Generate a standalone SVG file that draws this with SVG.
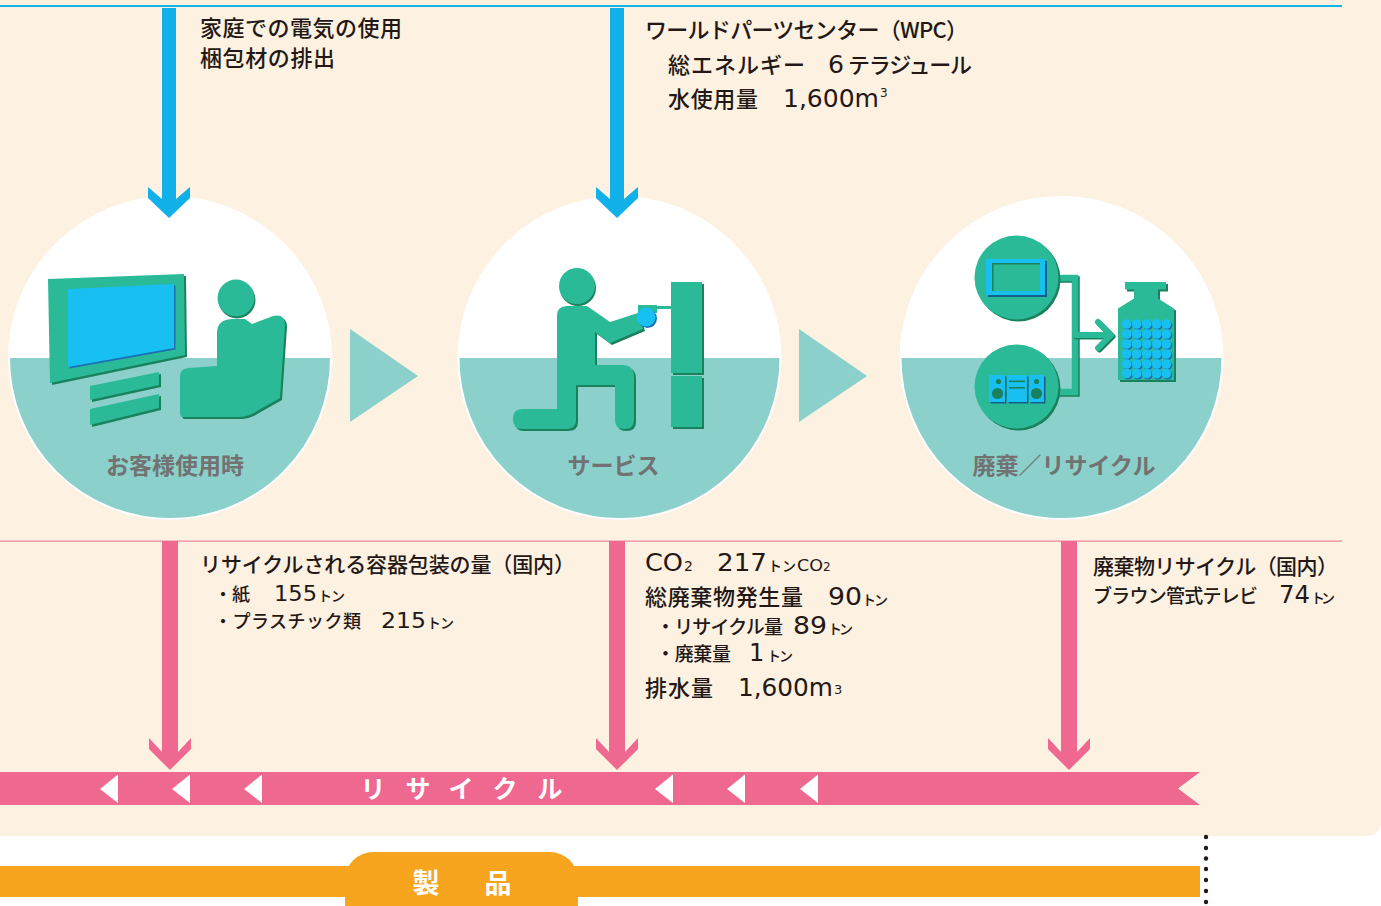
<svg xmlns="http://www.w3.org/2000/svg" width="1381" height="906" viewBox="0 0 1381 906">
<style>
  .t{font-family:"Noto Sans CJK JP","Noto Sans",sans-serif;fill:#231815;font-weight:500}
  .n{font-family:"DejaVu Sans","Noto Sans CJK JP",sans-serif;fill:#231815}
  .lbl{font-family:"Noto Sans CJK JP",sans-serif;font-weight:700;fill:#727272;font-size:23px;text-anchor:middle}
  .w{font-family:"Noto Sans CJK JP",sans-serif;font-weight:700;fill:#ffffff;text-anchor:middle}
  .g{fill:#2BBA97}
  .sh{fill:#1A815D}
  .b{fill:#17C0F0}
  .bs{fill:#1C6FB4}
  .sky{fill:#ffffff}
  .floor{fill:#8BD0CB}
  .rim{fill:none;stroke:#ffffff;stroke-width:2}
  .blue{fill:#12B0E8}
  .pink{fill:#EF6890}
  .flow{fill:#8BD0CB}
  .tri{fill:#ffffff}
</style>

<!-- page backdrop -->
<rect x="0" y="0" width="1381" height="906" fill="#ffffff"/>
<path d="M0,0 H1381 V821 Q1381,836 1366,836 H0 Z" fill="#FDF1E2"/>
<rect x="0" y="5" width="1342" height="2" fill="#12B4EC"/>
<rect x="0" y="540.5" width="1342" height="1.3" fill="#EE8AA0"/>

<!-- stage 1: in use -->
<g id="stage-use">
  <circle cx="170" cy="358" r="161" class="sky"/>
  <path d="M9,358 A161,161 0 0 0 331,358 Z" class="floor"/>
  <circle cx="170" cy="358" r="161" class="rim"/>
  <!-- television -->
  <path d="M48,279 L184,274 L185,355 L50,383 Z" class="sh" transform="translate(2,2)"/>
  <path d="M48,279 L184,274 L185,355 L50,383 Z" class="g"/>
  <path d="M68,289 L174,284 L174,348 L68,367 Z" class="bs" transform="translate(1.5,1.5)"/>
  <path d="M68,289 L174,284 L174,348 L68,367 Z" class="b"/>
  <path d="M90,386 L159,372 L159,385 L90,400 Z" class="sh" transform="translate(2,2)"/>
  <path d="M90,386 L159,372 L159,385 L90,400 Z" class="g"/>
  <path d="M90,409 L159,394 L159,408 L90,425 Z" class="sh" transform="translate(2,2)"/>
  <path d="M90,409 L159,394 L159,408 L90,425 Z" class="g"/>
  <!-- viewer -->
  <circle cx="237" cy="300" r="18.5" class="sh"/>
  <circle cx="236" cy="298" r="18.5" class="g"/>
  <path d="M217,366 V333 Q217,319 233,319 H245 L252,324 L273,316 Q285,313 285,325 L280,398 L257,411 Q250,416 240,417 H183 Q180,417 180,413 V376 Q180,369 188,368 Z" class="sh" transform="translate(2,2)"/>
  <path d="M217,366 V333 Q217,319 233,319 H245 L252,324 L273,316 Q285,313 285,325 L280,398 L257,411 Q250,416 240,417 H183 Q180,417 180,413 V376 Q180,369 188,368 Z" class="g"/>
  <text class="lbl" x="175" y="474">お客様使用時</text>
</g>

<!-- stage 2: service -->
<g id="stage-service">
  <circle cx="619.5" cy="358" r="161" class="sky"/>
  <path d="M458.5,358 A161,161 0 0 0 780.5,358 Z" class="floor"/>
  <circle cx="619.5" cy="358" r="161" class="rim"/>
  <!-- technician -->
  <circle cx="578" cy="288" r="18" class="sh"/>
  <circle cx="577" cy="286" r="18" class="g"/>
  <path d="M557,316 Q557,306 567,306 H587 L610,322 L638,313 L643,329 L610,343 L595,332 V365 H622 Q634,365 634,377 V420 Q634,429 624.5,429 Q615,429 615,420 V385 H576 V420 Q576,429 566,429 H522 Q513,429 513,419 Q513,409 522,409 H557 Z" class="sh" transform="translate(2,2)"/>
  <path d="M557,316 Q557,306 567,306 H587 L610,322 L638,313 L643,329 L610,343 L595,332 V365 H622 Q634,365 634,377 V420 Q634,429 624.5,429 Q615,429 615,420 V385 H576 V420 Q576,429 566,429 H522 Q513,429 513,419 Q513,409 522,409 H557 Z" class="g"/>
  <rect x="638" y="305" width="19" height="8" class="g"/>
  <rect x="656" y="306" width="19" height="3" class="g"/>
  <circle cx="647.5" cy="318.5" r="9.5" class="bs"/>
  <circle cx="646" cy="317" r="9.5" class="b"/>
  <!-- cabinet -->
  <rect x="673" y="284" width="31" height="91" class="sh"/>
  <rect x="671" y="282" width="31" height="91" class="g"/>
  <rect x="673" y="378" width="31" height="51" class="sh"/>
  <rect x="671" y="376" width="31" height="51" class="g"/>
  <text class="lbl" x="613.5" y="474">サービス</text>
</g>

<!-- stage 3: disposal / recycling -->
<g id="stage-recycle">
  <circle cx="1061.5" cy="358" r="161" class="sky"/>
  <path d="M900.5,358 A161,161 0 0 0 1222.5,358 Z" class="floor"/>
  <circle cx="1061.5" cy="358" r="161" class="rim"/>
  <!-- collection links -->
  <path d="M1058,278 H1075 V392 H1058" fill="none" stroke="#1A815D" stroke-width="6.5" transform="translate(1.5,1.5)"/>
  <path d="M1058,278 H1075 V392 H1058" fill="none" stroke="#2BBA97" stroke-width="6.5"/>
  <path d="M1075,335 H1109 M1098,322 L1111,335 L1098,348" fill="none" stroke="#1A815D" stroke-width="6" stroke-linecap="round" stroke-linejoin="round" transform="translate(1.5,1.5)"/>
  <path d="M1075,335 H1109 M1098,322 L1111,335 L1098,348" fill="none" stroke="#2BBA97" stroke-width="6" stroke-linecap="round" stroke-linejoin="round"/>
  <!-- used television -->
  <circle cx="1018.5" cy="279.5" r="42" class="sh"/>
  <circle cx="1016.5" cy="277.5" r="42" class="g"/>
  <rect x="988" y="261" width="59" height="36" fill="#135F88"/>
  <rect x="986" y="259" width="59" height="36" class="b"/>
  <rect x="992" y="263" width="48" height="28" fill="#1A815D"/>
  <rect x="993.5" y="264.5" width="46.5" height="26.5" class="g"/>
  <!-- used stereo -->
  <circle cx="1018.5" cy="388.5" r="42" class="sh"/>
  <circle cx="1016.5" cy="386.5" r="42" class="g"/>
  <rect x="990.5" y="376.5" width="16" height="27" fill="#135F88"/>
  <rect x="1008.5" y="376.5" width="20" height="27" fill="#135F88"/>
  <rect x="1030.5" y="376.5" width="15" height="27" fill="#135F88"/>
  <rect x="989" y="375" width="16" height="27" class="b"/>
  <rect x="1007" y="375" width="20" height="27" class="b"/>
  <rect x="1029" y="375" width="15" height="27" class="b"/>
  <circle cx="998.5" cy="381.5" r="2.6" class="sh"/>
  <circle cx="997.5" cy="393.5" r="5.6" class="sh"/>
  <circle cx="1036.5" cy="381.5" r="2.6" class="sh"/>
  <circle cx="1036.5" cy="393.5" r="5.6" class="sh"/>
  <rect x="1009" y="380.5" width="16" height="1.6" class="sh"/>
  <rect x="1009" y="387" width="16" height="1.6" class="sh"/>
  <!-- recycled material -->
  <path d="M1125,282 H1166 V289.5 H1158 V298.5 L1174,308.5 V380 H1118 V308.5 L1134,298.5 V289.5 H1125 Z" class="sh" transform="translate(2,2)"/>
  <path d="M1125,282 H1166 V289.5 H1158 V298.5 L1174,308.5 V380 H1118 V308.5 L1134,298.5 V289.5 H1125 Z" class="g"/>
  <g id="pellets">
    <g class="bs" transform="translate(1.3,1.3)">
      <circle cx="1126.7" cy="324" r="4.8"/><circle cx="1136.7" cy="324" r="4.8"/><circle cx="1146.7" cy="324" r="4.8"/><circle cx="1156.7" cy="324" r="4.8"/><circle cx="1166.3" cy="324" r="4.8"/>
      <circle cx="1126.7" cy="334" r="4.8"/><circle cx="1136.7" cy="334" r="4.8"/><circle cx="1146.7" cy="334" r="4.8"/><circle cx="1156.7" cy="334" r="4.8"/><circle cx="1166.3" cy="334" r="4.8"/>
      <circle cx="1126.7" cy="344" r="4.8"/><circle cx="1136.7" cy="344" r="4.8"/><circle cx="1146.7" cy="344" r="4.8"/><circle cx="1156.7" cy="344" r="4.8"/><circle cx="1166.3" cy="344" r="4.8"/>
      <circle cx="1126.7" cy="354" r="4.8"/><circle cx="1136.7" cy="354" r="4.8"/><circle cx="1146.7" cy="354" r="4.8"/><circle cx="1156.7" cy="354" r="4.8"/><circle cx="1166.3" cy="354" r="4.8"/>
      <circle cx="1126.7" cy="364" r="4.8"/><circle cx="1136.7" cy="364" r="4.8"/><circle cx="1146.7" cy="364" r="4.8"/><circle cx="1156.7" cy="364" r="4.8"/><circle cx="1166.3" cy="364" r="4.8"/>
      <circle cx="1126.7" cy="373.5" r="4.8"/><circle cx="1136.7" cy="373.5" r="4.8"/><circle cx="1146.7" cy="373.5" r="4.8"/><circle cx="1156.7" cy="373.5" r="4.8"/><circle cx="1166.3" cy="373.5" r="4.8"/>
    </g>
    <g class="b">
      <circle cx="1126.7" cy="324" r="4.8"/><circle cx="1136.7" cy="324" r="4.8"/><circle cx="1146.7" cy="324" r="4.8"/><circle cx="1156.7" cy="324" r="4.8"/><circle cx="1166.3" cy="324" r="4.8"/>
      <circle cx="1126.7" cy="334" r="4.8"/><circle cx="1136.7" cy="334" r="4.8"/><circle cx="1146.7" cy="334" r="4.8"/><circle cx="1156.7" cy="334" r="4.8"/><circle cx="1166.3" cy="334" r="4.8"/>
      <circle cx="1126.7" cy="344" r="4.8"/><circle cx="1136.7" cy="344" r="4.8"/><circle cx="1146.7" cy="344" r="4.8"/><circle cx="1156.7" cy="344" r="4.8"/><circle cx="1166.3" cy="344" r="4.8"/>
      <circle cx="1126.7" cy="354" r="4.8"/><circle cx="1136.7" cy="354" r="4.8"/><circle cx="1146.7" cy="354" r="4.8"/><circle cx="1156.7" cy="354" r="4.8"/><circle cx="1166.3" cy="354" r="4.8"/>
      <circle cx="1126.7" cy="364" r="4.8"/><circle cx="1136.7" cy="364" r="4.8"/><circle cx="1146.7" cy="364" r="4.8"/><circle cx="1156.7" cy="364" r="4.8"/><circle cx="1166.3" cy="364" r="4.8"/>
      <circle cx="1126.7" cy="373.5" r="4.8"/><circle cx="1136.7" cy="373.5" r="4.8"/><circle cx="1146.7" cy="373.5" r="4.8"/><circle cx="1156.7" cy="373.5" r="4.8"/><circle cx="1166.3" cy="373.5" r="4.8"/>
    </g>
  </g>
  <text class="lbl" x="1064" y="474">廃棄／リサイクル</text>
</g>

<!-- recycling loop band -->
<g id="recycle-band">
  <path d="M0,772 H1200 L1178,788.5 L1200,805 H0 Z" class="pink"/>
  <g class="tri">
    <path d="M100,789 L118,774.5 V803 Z"/>
    <path d="M172,789 L190,774.5 V803 Z"/>
    <path d="M244,789 L262,774.5 V803 Z"/>
    <path d="M655,789 L673,774.5 V803 Z"/>
    <path d="M727,789 L745,774.5 V803 Z"/>
    <path d="M800,789 L818,774.5 V803 Z"/>
  </g>
  <g class="w" font-size="25">
    <text x="373" y="798">リ</text>
    <text x="418" y="798">サ</text>
    <text x="461" y="798">イ</text>
    <text x="505" y="798">ク</text>
    <text x="550" y="798">ル</text>
  </g>
</g>

<!-- product band -->
<g id="product-band">
  <rect x="0" y="866" width="1200" height="31" fill="#F7A51E"/>
  <rect x="345" y="852" width="233" height="80" rx="28" fill="#F7A51E"/>
  <text class="w" x="426" y="893" font-size="27">製</text>
  <text class="w" x="498" y="893" font-size="27">品</text>
  <g fill="#231815">
    <circle cx="1206" cy="837" r="2.2"/><circle cx="1206" cy="848" r="2.2"/><circle cx="1206" cy="858.5" r="2.2"/><circle cx="1206" cy="869" r="2.2"/><circle cx="1206" cy="880" r="2.2"/><circle cx="1206" cy="891" r="2.2"/><circle cx="1206" cy="902" r="2.2"/>
  </g>
</g>

<!-- connectors -->
<g id="connectors">
  <!-- inputs -->
  <path class="blue" d="M162,8 V199 L148,187 V198 L169,218 L190,198 V187 L176,199 V8 Z"/>
  <path class="blue" d="M610,8 V199 L596,187 V198 L617,218 L638,198 V187 L624,199 V8 Z"/>
  <!-- stage flow -->
  <path class="flow" d="M350,329 L418,376 L350,422 Z"/>
  <path class="flow" d="M799,329 L867,376 L799,422 Z"/>
  <!-- outputs to recycling -->
  <path class="pink" d="M162,541 V752 L149,738 V749 L170,770 L191,749 V738 L178,752 V541 Z"/>
  <path class="pink" d="M609,541 V752 L596,738 V749 L617,770 L638,749 V738 L625,752 V541 Z"/>
  <path class="pink" d="M1061,541 V752 L1048,738 V749 L1069,770 L1090,749 V738 L1077,752 V541 Z"/>
</g>

<!-- annotations: household use -->
<g id="note-use-in">
  <text class="t" x="200" y="36" font-size="22" textLength="202">家庭での電気の使用</text>
  <text class="t" x="200" y="66" font-size="22" textLength="135">梱包材の排出</text>
</g>

<!-- annotations: parts centre -->
<g id="note-service-in">
  <text class="t" x="645" y="38" font-size="22" textLength="323">ワールドパーツセンター（WPC）</text>
  <text class="t" x="668" y="73" font-size="22" textLength="137">総エネルギー</text>
  <text class="n" x="828" y="73" font-size="25" textLength="16" lengthAdjust="spacingAndGlyphs">6</text>
  <text class="t" x="848" y="73" font-size="22" textLength="124">テラジュール</text>
  <text class="t" x="668" y="107" font-size="22" textLength="90">水使用量</text>
  <text class="n" x="783" y="107" font-size="25" textLength="96" lengthAdjust="spacingAndGlyphs">1,600m</text>
  <text class="n" x="880" y="97" font-size="12">3</text>
</g>

<!-- annotations: packaging recycled -->
<g id="note-use-out">
  <text class="t" x="200" y="572" font-size="21" textLength="375">リサイクルされる容器包装の量（国内）</text>
  <text class="t" x="214" y="601" font-size="18">・紙</text>
  <text class="n" x="274" y="601" font-size="21.5" textLength="43" lengthAdjust="spacingAndGlyphs">155</text>
  <text class="t" x="318" y="601" font-size="14" textLength="27">トン</text>
  <text class="t" x="214" y="628" font-size="18" textLength="147">・プラスチック類</text>
  <text class="n" x="381" y="628" font-size="21.5" textLength="45" lengthAdjust="spacingAndGlyphs">215</text>
  <text class="t" x="427" y="628" font-size="14" textLength="27">トン</text>
</g>

<!-- annotations: service output -->
<g id="note-service-out">
  <text class="n" x="645" y="571" font-size="25" textLength="38" lengthAdjust="spacingAndGlyphs">CO</text>
  <text class="n" x="684" y="571" font-size="14">2</text>
  <text class="n" x="717" y="571" font-size="25" textLength="50" lengthAdjust="spacingAndGlyphs">217</text>
  <text class="t" x="768" y="571" font-size="14" textLength="28">トン</text>
  <text class="n" x="797" y="571" font-size="15" textLength="26" lengthAdjust="spacingAndGlyphs">CO</text>
  <text class="n" x="823" y="571" font-size="12">2</text>

  <text class="t" x="645" y="605" font-size="22" textLength="158">総廃棄物発生量</text>
  <text class="n" x="828" y="605" font-size="25" textLength="34" lengthAdjust="spacingAndGlyphs">90</text>
  <text class="t" x="862" y="605" font-size="14" textLength="26">トン</text>

  <text class="t" x="656" y="634" font-size="19" textLength="127">・リサイクル量</text>
  <text class="n" x="793" y="634" font-size="24" textLength="34" lengthAdjust="spacingAndGlyphs">89</text>
  <text class="t" x="828" y="634" font-size="14" textLength="25">トン</text>

  <text class="t" x="656" y="661" font-size="19" textLength="75">・廃棄量</text>
  <text class="n" x="749" y="661" font-size="24">1</text>
  <text class="t" x="767" y="661" font-size="14" textLength="26">トン</text>

  <text class="t" x="645" y="696" font-size="22" textLength="68">排水量</text>
  <text class="n" x="738" y="696" font-size="25" textLength="95" lengthAdjust="spacingAndGlyphs">1,600m</text>
  <text class="n" x="834" y="694" font-size="13">3</text>
</g>

<!-- annotations: disposal output -->
<g id="note-recycle-out">
  <text class="t" x="1093" y="574" font-size="21" textLength="245">廃棄物リサイクル（国内）</text>
  <text class="t" x="1093" y="603" font-size="19" textLength="165">ブラウン管式テレビ</text>
  <text class="n" x="1279" y="603" font-size="24" textLength="31" lengthAdjust="spacingAndGlyphs">74</text>
  <text class="t" x="1311" y="603" font-size="14" textLength="24">トン</text>
</g>
</svg>
